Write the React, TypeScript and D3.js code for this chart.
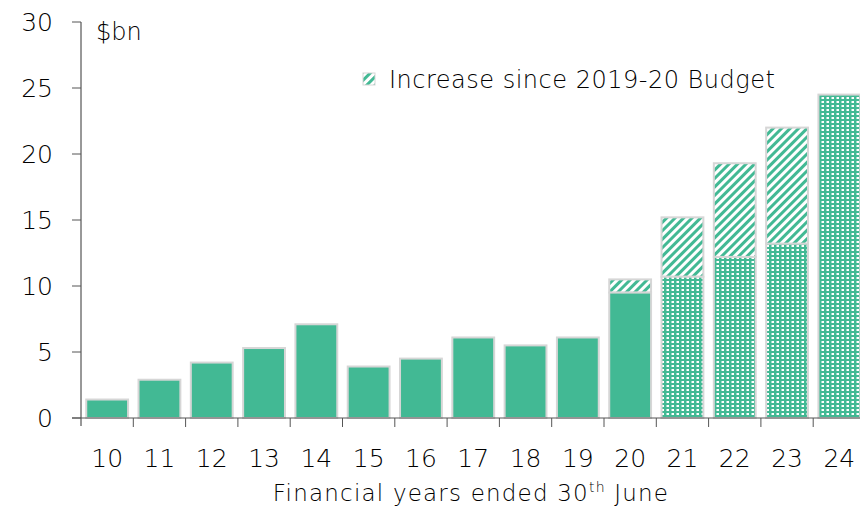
import React from "react";
import * as d3 from "d3";

const years = ["10", "11", "12", "13", "14", "15", "16", "17", "18", "19", "20", "21", "22", "23", "24"];
// value at 2019-20 Budget (solid for actuals, dotted for projections)
const baseValues = [1.4, 2.9, 4.2, 5.3, 7.1, 3.9, 4.5, 6.1, 5.5, 6.1, 9.5, 10.7, 12.2, 13.2, 24.5];
// increase since 2019-20 Budget (hatched)
const increaseValues = [0, 0, 0, 0, 0, 0, 0, 0, 0, 0, 1.0, 4.5, 7.1, 8.8, 0];
const projected = [false, false, false, false, false, false, false, false, false, false, false, true, true, true, true];
const yTicks = [0, 5, 10, 15, 20, 25, 30];

const GREEN = "#42b994";
const BORDER = "#d6d6d6";
const FONT = "'DejaVu Sans', sans-serif";

function App() {
  const width = 860;
  const height = 509;
  const left = 81;
  const x = d3.scaleBand().domain(years).range([left, left + 15 * 52.3]).paddingInner(0.2).paddingOuter(0.1);
  const y = d3.scaleLinear().domain([0, 30]).range([418, 22]);
  const bw = x.bandwidth();
  const step = x.step();

  return (
    <svg width={width} height={height} style={{ position: "absolute", left: 0, top: 0 }}>
      <defs>
        <pattern id="hatch" width="6" height="6" patternUnits="userSpaceOnUse" patternTransform="rotate(45)">
          <rect width="6" height="6" fill="#fff" />
          <rect width="3" height="6" fill={GREEN} />
        </pattern>
        <pattern id="dots" width="5" height="4" patternUnits="userSpaceOnUse">
          <rect width="5" height="4" fill={GREEN} />
          <rect x="1.5" y="1" width="2.5" height="2" fill="#fff" />
        </pattern>
      </defs>

      {years.map((yr, i) => {
        const bx = x(yr) as number;
        const b = baseValues[i];
        const inc = increaseValues[i];
        return (
          <g key={yr}>
            {inc > 0 && (
              <rect x={bx} y={y(b + inc)} width={bw} height={y(b) - y(b + inc)}
                fill="url(#hatch)" stroke={BORDER} strokeWidth={2} />
            )}
            <rect x={bx} y={y(b)} width={bw} height={y(0) - y(b)}
              fill={projected[i] ? "url(#dots)" : GREEN} stroke={BORDER} strokeWidth={2} />
          </g>
        );
      })}

      {/* y axis */}
      <line x1={left} x2={left} y1={y(30)} y2={y(0) + 8} stroke="#333" strokeWidth={1} />
      {yTicks.map((t) => (
        <g key={t}>
          <line x1={left - 9} x2={left} y1={y(t)} y2={y(t)} stroke="#555" strokeWidth={1} />
          <text x={left - 28} y={y(t)} dy="0.36em" textAnchor="end" fontSize={25} fontWeight={300}
            fontFamily={FONT} fill="#000">
            {t}
          </text>
        </g>
      ))}

      {/* x axis */}
      <line x1={left - 9} x2={width} y1={y(0)} y2={y(0)} stroke="#555" strokeWidth={1} />
      {years.map((yr, i) => (
        <g key={yr}>
          {i > 0 && (
            <line x1={left + i * step} x2={left + i * step} y1={y(0)} y2={y(0) + 9}
              stroke="#555" strokeWidth={1} />
          )}
          <text x={(x(yr) as number) + bw / 2} y={467} textAnchor="middle" fontSize={25} fontWeight={300}
            fontFamily={FONT} fill="#000">
            {yr}
          </text>
        </g>
      ))}

      <text x={471} y={501} textAnchor="middle" fontSize={23} fontWeight={300} letterSpacing={1.2}
        fontFamily={FONT} fill="#000">
        Financial years ended 30
        <tspan fontSize={14} dy={-9}>th</tspan>
        <tspan dy={9}> June</tspan>
      </text>

      <text x={96} y={40} fontSize={24} fontWeight={300} fontFamily={FONT} fill="#000">$bn</text>

      {/* legend */}
      <rect x={363} y={73} width={12} height={12} fill="url(#hatch)" stroke={BORDER} strokeWidth={1} />
      <text x={389} y={88} fontSize={24} fontWeight={300} letterSpacing={0.5} fontFamily={FONT} fill="#000">
        Increase since 2019-20 Budget
      </text>
    </svg>
  );
}

export default App;
